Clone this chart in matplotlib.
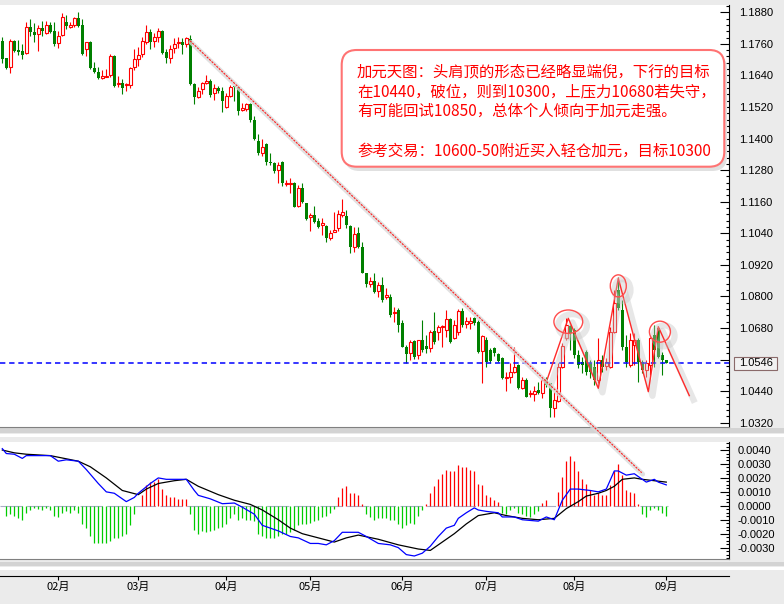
import numpy as np
import matplotlib
matplotlib.use("Agg")
import matplotlib.pyplot as plt
import matplotlib.patheffects as pe
from matplotlib.lines import Line2D
from matplotlib.patches import Ellipse, FancyBboxPatch, Rectangle
from matplotlib.ticker import MultipleLocator
from matplotlib.transforms import IdentityTransform, offset_copy

plt.rcParams['font.family'] = ['Noto Sans CJK SC', 'DejaVu Sans']
plt.rcParams['axes.unicode_minus'] = False

# daily candles (open / high / low / close), mid Jan -> 1 Sep
opens = [1.1771, 1.1706, 1.1672, 1.1771, 1.1737, 1.1733, 1.1725, 1.1824, 1.1805, 1.1798,
         1.1820, 1.1801, 1.1832, 1.1809, 1.1763, 1.1794, 1.1843, 1.1824, 1.1832, 1.1858,
         1.1832, 1.1741, 1.1767, 1.1668, 1.1653, 1.1630, 1.1634, 1.1642, 1.1714, 1.1608,
         1.1611, 1.1604, 1.1604, 1.1672, 1.1703, 1.1722, 1.1767, 1.1805, 1.1771, 1.1786,
         1.1809, 1.1729, 1.1706, 1.1744, 1.1763, 1.1767, 1.1760, 1.1779, 1.1608, 1.1558,
         1.1589, 1.1611, 1.1619, 1.1573, 1.1592, 1.1581, 1.1520, 1.1562, 1.1600, 1.1596,
         1.1509, 1.1513, 1.1532, 1.1471, 1.1391, 1.1346, 1.1380, 1.1311, 1.1307, 1.1281,
         1.1311, 1.1228, 1.1228, 1.1231, 1.1144, 1.1212, 1.1156, 1.1102, 1.1110, 1.1087,
         1.1072, 1.1068, 1.1022, 1.1045, 1.1060, 1.1110, 1.1106, 1.1068, 1.0988, 1.1041,
         1.0988, 1.0889, 1.0848, 1.0859, 1.0821, 1.0844, 1.0798, 1.0798, 1.0737, 1.0749,
         1.0699, 1.0608, 1.0585, 1.0631, 1.0578, 1.0635, 1.0612, 1.0604, 1.0669, 1.0665,
         1.0684, 1.0673, 1.0715, 1.0642, 1.0665, 1.0745, 1.0696, 1.0699, 1.0718, 1.0703,
         1.0593, 1.0635, 1.0597, 1.0604, 1.0582, 1.0566, 1.0490, 1.0494, 1.0513, 1.0540,
         1.0452, 1.0483, 1.0430, 1.0430, 1.0445, 1.0433, 1.0487, 1.0471, 1.0376, 1.0403,
         1.0532, 1.0642, 1.0688, 1.0673, 1.0578, 1.0551, 1.0589, 1.0547, 1.0532, 1.0483,
         1.0559, 1.0536, 1.0532, 1.0665, 1.0825, 1.0749, 1.0608, 1.0540, 1.0616, 1.0635,
         1.0551, 1.0521, 1.0540, 1.0654, 1.0680, 1.0578, 1.0559]
highs = [1.1786, 1.1706, 1.1779, 1.1775, 1.1775, 1.1760, 1.1843, 1.1855, 1.1839, 1.1832,
         1.1847, 1.1847, 1.1843, 1.1843, 1.1809, 1.1877, 1.1870, 1.1843, 1.1862, 1.1881,
         1.1855, 1.1767, 1.1771, 1.1691, 1.1672, 1.1661, 1.1665, 1.1722, 1.1718, 1.1638,
         1.1627, 1.1611, 1.1672, 1.1741, 1.1748, 1.1786, 1.1832, 1.1817, 1.1801, 1.1820,
         1.1813, 1.1741, 1.1756, 1.1782, 1.1786, 1.1782, 1.1786, 1.1794, 1.1611, 1.1596,
         1.1615, 1.1642, 1.1627, 1.1608, 1.1600, 1.1596, 1.1573, 1.1604, 1.1600, 1.1600,
         1.1535, 1.1535, 1.1535, 1.1486, 1.1418, 1.1399, 1.1384, 1.1346, 1.1311, 1.1311,
         1.1315, 1.1243, 1.1250, 1.1235, 1.1224, 1.1231, 1.1156, 1.1117, 1.1144, 1.1098,
         1.1098, 1.1072, 1.1053, 1.1121, 1.1129, 1.1171, 1.1129, 1.1072, 1.1064, 1.1064,
         1.1007, 1.0889, 1.0874, 1.0889, 1.0855, 1.0874, 1.0833, 1.0810, 1.0760, 1.0756,
         1.0711, 1.0616, 1.0635, 1.0635, 1.0635, 1.0711, 1.0654, 1.0673, 1.0741, 1.0692,
         1.0692, 1.0749, 1.0718, 1.0711, 1.0753, 1.0756, 1.0722, 1.0722, 1.0722, 1.0711,
         1.0654, 1.0646, 1.0604, 1.0608, 1.0585, 1.0570, 1.0513, 1.0547, 1.0608, 1.0544,
         1.0494, 1.0490, 1.0445, 1.0460, 1.0475, 1.0490, 1.0494, 1.0471, 1.0437, 1.0547,
         1.0623, 1.0718, 1.0692, 1.0680, 1.0597, 1.0570, 1.0597, 1.0559, 1.0559, 1.0642,
         1.0578, 1.0566, 1.0684, 1.0825, 1.0874, 1.0787, 1.0654, 1.0661, 1.0661, 1.0642,
         1.0559, 1.0559, 1.0646, 1.0692, 1.0684, 1.0589, 1.0559]
lows = [1.1687, 1.1665, 1.1649, 1.1729, 1.1718, 1.1703, 1.1722, 1.1790, 1.1767, 1.1733,
        1.1790, 1.1798, 1.1801, 1.1752, 1.1744, 1.1790, 1.1817, 1.1820, 1.1824, 1.1824,
        1.1718, 1.1714, 1.1665, 1.1649, 1.1627, 1.1627, 1.1634, 1.1634, 1.1596, 1.1596,
        1.1570, 1.1581, 1.1592, 1.1661, 1.1676, 1.1710, 1.1760, 1.1741, 1.1748, 1.1767,
        1.1722, 1.1687, 1.1687, 1.1725, 1.1744, 1.1722, 1.1748, 1.1604, 1.1532, 1.1554,
        1.1570, 1.1608, 1.1558, 1.1547, 1.1573, 1.1501, 1.1516, 1.1558, 1.1543, 1.1490,
        1.1505, 1.1505, 1.1463, 1.1395, 1.1338, 1.1334, 1.1300, 1.1300, 1.1269, 1.1231,
        1.1220, 1.1220, 1.1194, 1.1140, 1.1140, 1.1156, 1.1091, 1.1049, 1.1079, 1.1060,
        1.1034, 1.1007, 1.1015, 1.1045, 1.1049, 1.1102, 1.1060, 1.0965, 1.0969, 1.0985,
        1.0889, 1.0836, 1.0836, 1.0813, 1.0798, 1.0779, 1.0791, 1.0722, 1.0703, 1.0665,
        1.0608, 1.0547, 1.0559, 1.0563, 1.0563, 1.0589, 1.0585, 1.0589, 1.0620, 1.0635,
        1.0608, 1.0646, 1.0623, 1.0639, 1.0654, 1.0684, 1.0680, 1.0677, 1.0692, 1.0585,
        1.0471, 1.0532, 1.0547, 1.0574, 1.0551, 1.0487, 1.0441, 1.0471, 1.0509, 1.0449,
        1.0449, 1.0418, 1.0418, 1.0403, 1.0430, 1.0414, 1.0456, 1.0342, 1.0342, 1.0399,
        1.0528, 1.0635, 1.0597, 1.0566, 1.0528, 1.0509, 1.0502, 1.0490, 1.0464, 1.0471,
        1.0513, 1.0521, 1.0528, 1.0661, 1.0749, 1.0597, 1.0532, 1.0532, 1.0540, 1.0475,
        1.0509, 1.0494, 1.0502, 1.0532, 1.0566, 1.0502, 1.0546]
closes = [1.1703, 1.1668, 1.1771, 1.1733, 1.1729, 1.1718, 1.1824, 1.1805, 1.1794, 1.1820,
          1.1809, 1.1832, 1.1805, 1.1760, 1.1790, 1.1862, 1.1828, 1.1832, 1.1858, 1.1828,
          1.1722, 1.1767, 1.1668, 1.1653, 1.1630, 1.1638, 1.1638, 1.1714, 1.1600, 1.1611,
          1.1592, 1.1608, 1.1668, 1.1703, 1.1718, 1.1771, 1.1805, 1.1767, 1.1786, 1.1809,
          1.1725, 1.1706, 1.1741, 1.1760, 1.1767, 1.1756, 1.1782, 1.1608, 1.1558, 1.1581,
          1.1611, 1.1619, 1.1566, 1.1592, 1.1581, 1.1543, 1.1562, 1.1596, 1.1596, 1.1505,
          1.1516, 1.1532, 1.1471, 1.1399, 1.1346, 1.1368, 1.1311, 1.1307, 1.1277, 1.1300,
          1.1231, 1.1231, 1.1231, 1.1140, 1.1212, 1.1159, 1.1095, 1.1110, 1.1083, 1.1064,
          1.1079, 1.1022, 1.1041, 1.1053, 1.1114, 1.1121, 1.1072, 1.0988, 1.1038, 1.0988,
          1.0889, 1.0848, 1.0859, 1.0817, 1.0844, 1.0787, 1.0806, 1.0730, 1.0741, 1.0692,
          1.0608, 1.0582, 1.0627, 1.0570, 1.0635, 1.0597, 1.0601, 1.0665, 1.0627, 1.0684,
          1.0688, 1.0715, 1.0627, 1.0692, 1.0745, 1.0692, 1.0707, 1.0707, 1.0699, 1.0589,
          1.0650, 1.0551, 1.0555, 1.0585, 1.0555, 1.0490, 1.0494, 1.0513, 1.0532, 1.0452,
          1.0483, 1.0418, 1.0433, 1.0441, 1.0433, 1.0483, 1.0464, 1.0376, 1.0407, 1.0532,
          1.0612, 1.0692, 1.0661, 1.0578, 1.0540, 1.0540, 1.0513, 1.0513, 1.0483, 1.0559,
          1.0532, 1.0551, 1.0665, 1.0775, 1.0756, 1.0608, 1.0551, 1.0635, 1.0635, 1.0551,
          1.0521, 1.0547, 1.0642, 1.0597, 1.0570, 1.0559, 1.0546]

# MACD histogram, one value per day
macd_hist = [0.0, -0.0007, -0.0006, -0.0007, -0.0009, -0.0010, -0.0005, -0.0003, -0.00015, -0.0002,
             -0.0003, -0.00015, -0.0003, -0.0007, -0.0008, -0.0005, -0.0004, -0.0005, -0.0003, -0.0005,
             -0.0013, -0.0016, -0.0022, -0.0027, -0.0027, -0.0027, -0.0027, -0.0025, -0.0023, -0.0023,
             -0.0022, -0.0020, -0.0014, -0.0006, 0.0, 0.00075, 0.0015, 0.0017, 0.0017, 0.0019,
             0.0012, 0.00075, 0.0006, 0.0006, 0.0005, 0.0005, 0.0005, -0.0006, -0.0017, -0.0020,
             -0.0018, -0.0019, -0.0018, -0.0017, -0.0016, -0.0015, -0.0013, -0.0009, -0.0006, -0.0010,
             -0.0009, -0.0010, -0.0010, -0.0011, -0.0020, -0.0022, -0.0023, -0.0023, -0.0023, -0.0022,
             -0.0020, -0.0020, -0.0019, -0.0017, -0.0014, -0.0013, -0.0013, -0.0012, -0.0011, -0.0010,
             -0.0008, -0.0007, -0.0005, -0.0002, 0.0006, 0.0013, 0.0014, 0.0009, 0.0009, 0.00075,
             0.0001, -0.0006, -0.0008, -0.0010, -0.0009, -0.0009, -0.0009, -0.0010, -0.0010, -0.0013,
             -0.0016, -0.0014, -0.0012, -0.0013, -0.0007, -0.0003, 0.0001, 0.0009, 0.0014, 0.0019,
             0.0023, 0.0026, 0.0025, 0.0025, 0.0029, 0.0028, 0.0028, 0.0026, 0.0025, 0.0016,
             0.0015, 0.00075, 0.0006, 0.0004, 0.0003, -0.0005, -0.0006, -0.0003, -0.00015, -0.0005,
             -0.0006, -0.0007, -0.0008, -0.0006, -0.0004, 0.0002, 0.0004, 0.0, 0.0, 0.0010,
             0.0021, 0.0032, 0.0036, 0.0032, 0.0025, 0.0019, 0.0016, 0.0011, 0.00075, 0.0009,
             0.00075, 0.00075, 0.0015, 0.0025, 0.0030, 0.0022, 0.0011, 0.0010, 0.0009, 0.00015,
             -0.0006, -0.0008, -0.0003, -0.00015, -0.0003, -0.0005, -0.0007]

dif_days = [0, 1, 3, 5, 6, 8, 10, 12, 14, 16, 19, 21, 24, 26, 28, 31, 33, 34, 37, 39,
            41, 43, 46, 48, 49, 52, 55, 58, 60, 63, 65, 69, 72, 74, 77, 79, 81, 83, 85, 87,
            89, 91, 94, 97, 99, 101, 103, 105, 107, 109, 111, 113, 114, 116, 118, 119, 121, 124, 125, 128,
            130, 134, 136, 138, 140, 142, 144, 147, 149, 151, 153, 154, 156, 158, 159, 161, 163, 164, 166]
dif_vals = [0.0041, 0.00375, 0.0037, 0.0034, 0.0036, 0.0036, 0.0036, 0.0036, 0.0032, 0.0033,
            0.0032, 0.0026, 0.0016, 0.0010, 0.0009, 0.0003, 0.0006, 0.0009, 0.0016, 0.0020,
            0.0019, 0.0019, 0.0019, 0.0011, 0.00075, 0.0005, 0.00015, 0.0002, -0.0001, -0.0006,
            -0.0014, -0.0018, -0.0022, -0.0023, -0.0027, -0.0027, -0.0028, -0.0025, -0.0019, -0.0019,
            -0.0019, -0.0022, -0.0027, -0.0028, -0.0030, -0.0035, -0.0036, -0.0034, -0.0029, -0.0022,
            -0.0016, -0.0014, -0.0009, -0.0005, -0.00015, -0.0003, -0.0004, -0.0005, -0.0008, -0.0008,
            -0.0010, -0.0011, -0.0008, -0.0010, 0.0004, 0.0012, 0.0012, 0.0011, 0.0010, 0.0012,
            0.0025, 0.0025, 0.0022, 0.0023, 0.0021, 0.0017, 0.0019, 0.0017, 0.0015]
dea_days = [0, 3, 6, 12, 19, 22, 26, 30, 34, 36, 39, 43, 46, 49, 54, 58, 62, 65, 69, 72,
            75, 79, 83, 86, 89, 94, 99, 104, 107, 109, 113, 116, 119, 123, 126, 130, 134, 138, 141, 144,
            146, 149, 151, 153, 155, 158, 160, 163, 166]
dea_vals = [0.0040, 0.0038, 0.0037, 0.0036, 0.0032, 0.0028, 0.0020, 0.0011, 0.0008, 0.0012,
            0.0016, 0.0018, 0.0019, 0.0014, 0.0008, 0.0004, 0.0001, -0.0003, -0.0010, -0.0016,
            -0.0020, -0.0023, -0.0026, -0.0023, -0.0021, -0.0024, -0.0028, -0.0031, -0.0032, -0.0028,
            -0.0020, -0.0013, -0.0007, -0.0005, -0.0007, -0.0009, -0.0010, -0.0009, -0.0002, 0.0003,
            0.0007, 0.0009, 0.0011, 0.0014, 0.0019, 0.0020, 0.0019, 0.0018, 0.0017]

month_days = [14, 34, 56, 77, 100, 121, 143, 166]
month_labels = ['02月', '03月', '04月', '05月', '06月', '07月', '08月', '09月']

price_ticks = [1.188, 1.176, 1.164, 1.152, 1.140, 1.128, 1.116, 1.104,
               1.092, 1.080, 1.068, 1.056, 1.044, 1.032]
macd_ticks = [0.004, 0.003, 0.002, 0.001, 0.0, -0.001, -0.002, -0.003]

# hand drawn marks on the chart
trend_days = [46.9, 159.85]
trend_prices = [1.1772, 1.0130]
pattern_days = [136.1, 141.5, 149.0, 154.0, 161.5, 164.0, 171.75]
pattern_prices = [1.0479, 1.0717, 1.0451, 1.0869, 1.0438, 1.0685, 1.0423]
circle_days = [141.5, 154.0, 164.4]
circle_prices = [1.0704, 1.0840, 1.0666]
circle_w = [7.2, 4.0, 5.25]
circle_h = [0.0089, 0.0084, 0.0080]

note_lines = ['加元天图：头肩顶的形态已经略显端倪，下行的目标',
              '在10440，破位，则到10300，上压力10680若失守，',
              '有可能回试10850，总体个人倾向于加元走强。',
              '',
              '参考交易：10600-50附近买入轻仓加元，目标10300']

W, H = 784, 604
fig = plt.figure(figsize=(W / 100, H / 100), dpi=100, facecolor='#ebebeb')


def band(y0, y1, color):
    fig.add_artist(Rectangle((0, 1 - y1 / H), 1, (y1 - y0) / H, transform=fig.transFigure,
                             color=color, zorder=-5, lw=0))


band(428, 433, '#d3d3d3')
band(434, 436.5, 'white')
band(562, 566, '#d3d3d3')
band(567, 569.5, 'white')

right = 729.3 / W
ax_p = fig.add_axes([0, 1 - 427 / H, right, 422 / H])
ax_m = fig.add_axes([0, 1 - 558.5 / H, right, 116.5 / H])
ax_t = fig.add_axes([0, 1 - 575.5 / H, right, 6 / H])

x = np.arange(len(closes))
o, h, l, c = (np.array(v) for v in (opens, highs, lows, closes))
up = c > o
dn = ~up
body_lo = np.minimum(o, c)
body_h = np.maximum(np.abs(c - o), 0.0003)

ax_p.vlines(x[up], l[up], h[up], color='#ff0000', lw=0.8, zorder=2)
ax_p.vlines(x[dn], l[dn], h[dn], color='#008000', lw=0.8, zorder=2)
ax_p.bar(x[up], body_h[up], bottom=body_lo[up], width=0.68, facecolor='white',
         edgecolor='#ff0000', linewidth=0.8, zorder=3)
ax_p.bar(x[dn], body_h[dn], bottom=body_lo[dn], width=0.75, color='#008000',
         linewidth=0, zorder=3)

last = closes[-1]
ax_p.axhline(last, color='#0000ff', lw=1.1, dashes=(3.5, 2.5), zorder=4)

xlim = (-0.575, 181.75)
ax_p.set_xlim(xlim)
ax_p.set_ylim(1.03037, 1.19077)
ax_p.set_xticks([])
ax_p.yaxis.tick_right()
ax_p.set_yticks(price_ticks, ['' if abs(t - 1.056) < 1e-6 else f'{t:.4f}' for t in price_ticks],
                fontfamily='Liberation Sans', fontsize=8)
ax_p.yaxis.set_minor_locator(MultipleLocator(0.0024))
ax_p.tick_params(axis='y', which='major', direction='in', length=6.5, width=0.8, pad=7)
ax_p.tick_params(axis='y', which='minor', direction='in', length=2.3, width=0.8)

# current price tag
ytr = ax_p.get_yaxis_transform()
ax_p.add_patch(Rectangle((1 + 4.5 / 729.3, last - 0.0025), 43 / 729.3, 0.0050, transform=ytr,
                         clip_on=False, facecolor='#f2f2f2', edgecolor='#8a6a6a', lw=0.8, zorder=10))
ax_p.text(1 + 9.5 / 729.3, last, f'{last:.4f}', transform=ytr, va='center', ha='left',
          fontfamily='Liberation Sans', fontsize=8, clip_on=False, zorder=11)

# MACD panel
hist = np.array(macd_hist)
pos = hist > 0
neg = hist < 0
ax_m.hlines(0, x[0] - 0.5, x[-1] + 0.5, color='#a9aec6', lw=0.8, linestyles=(0, (20, 4)), zorder=1)
ax_m.vlines(x[pos], 0, hist[pos], color='#ff0000', lw=0.9, zorder=2)
ax_m.vlines(x[neg], 0, hist[neg], color='#00cc00', lw=0.9, zorder=2)
ax_m.plot(dea_days, dea_vals, color='black', lw=0.9, zorder=3)
ax_m.plot(dif_days, dif_vals, color='#0000ff', lw=0.9, zorder=3)
ax_m.set_xlim(xlim)
ax_m.set_ylim(-0.00378, 0.004577)
ax_m.set_xticks([])
ax_m.yaxis.tick_right()
ax_m.set_yticks(macd_ticks, [f'{t:.4f}' for t in macd_ticks],
                fontfamily='Liberation Sans', fontsize=8)
ax_m.yaxis.set_minor_locator(MultipleLocator(0.00025))
ax_m.tick_params(axis='y', which='major', direction='in', length=6.5, width=0.8, pad=6)
ax_m.tick_params(axis='y', which='minor', direction='in', length=2.3, width=0.8)

for ax in (ax_p, ax_m):
    ax.set_facecolor('white')
    ax.spines['left'].set_visible(False)
    ax.spines['top'].set_visible(False)
    ax.spines['bottom'].set_color('#808080')
    ax.spines['right'].set_color('black')
    ax.spines['right'].set_linewidth(0.8)

# time axis
ax_t.set_facecolor('none')
for s in ('left', 'right', 'top'):
    ax_t.spines[s].set_visible(False)
ax_t.spines['bottom'].set_linewidth(0.8)
ax_t.set_xlim(xlim)
ax_t.set_yticks([])
ax_t.set_xticks(month_days, month_labels, fontsize=8)
ax_t.tick_params(axis='x', direction='out', length=3, width=0.8, pad=1.5)

# hand drawn trend line with its soft shadow
shadow_tr = offset_copy(ax_p.transData, fig=fig, x=1, y=-1.5, units='dots')
fig.add_artist(Line2D(trend_days, trend_prices, transform=shadow_tr, color='#dadada',
                      lw=3.5, alpha=0.8, zorder=3, solid_capstyle='round'))
fig.add_artist(Line2D(trend_days, trend_prices, transform=ax_p.transData, color='#ff2020',
                      lw=0.8, linestyle=(0, (2, 1)), zorder=4))

shadow = [pe.SimpleLineShadow(offset=(3, -3), shadow_color='#c4c4c4', alpha=0.4, rho=1, linewidth=4.5),
          pe.Normal()]
ax_p.plot(pattern_days, pattern_prices, color='#ff2a2a', lw=1.0, zorder=6,
          clip_on=False, path_effects=shadow)
for cd, cp, cw, ch in zip(circle_days, circle_prices, circle_w, circle_h):
    ax_p.add_patch(Ellipse((cd, cp), cw, ch, facecolor='none', edgecolor='#ff4d4d', lw=1.0,
                           zorder=6, path_effects=shadow))

# note box
fig.add_artist(FancyBboxPatch((344.5, H - 171), 382.6, 116.7, boxstyle='round,pad=0,rounding_size=15',
                              transform=IdentityTransform(), facecolor='#e0e0e0', edgecolor='none', zorder=4))
fig.add_artist(FancyBboxPatch((341.7, H - 166.7), 382.6, 116.7, boxstyle='round,pad=0,rounding_size=15',
                              transform=IdentityTransform(), facecolor='white', edgecolor='#ff7373',
                              lw=1.5, zorder=5))
for i, line in enumerate(note_lines):
    fig.text(357 / W, 1 - (71.5 + 20 * i) / H, line, color='#ff0000', fontsize=11.1,
             va='center', ha='left', zorder=6)

fig.savefig('out.png', dpi=100, facecolor=fig.get_facecolor())
